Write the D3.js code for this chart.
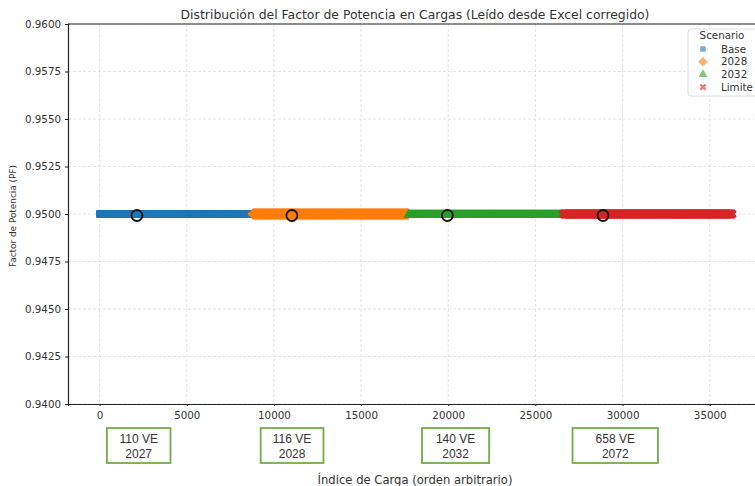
<!DOCTYPE html>
<html>
<head>
<meta charset="utf-8">
<script src="https://cdn.jsdelivr.net/npm/d3@7"></script>
<style>
  body { margin: 0; background: #fff; }
  svg text { font-family: "DejaVu Sans", sans-serif; fill: #333; }
</style>
</head>
<body>
<div id="container"></div>
<script>
// series segments: index range and power factor
const scenarios = ['Base', '2028', '2032', 'Limite'];
const segStart = [0, 8800, 17700, 26600];
const segEnd = [8800, 17700, 26600, 36300];
const pfValue = [0.95, 0.95, 0.95, 0.95];

// highlighted points (black rings)
const ringIndex = [2140, 11030, 19950, 28880];
const ringPF = [0.94992, 0.94992, 0.94992, 0.94992];

// annotation boxes under the axis
const boxCenter = [2240, 11040, 20420, 29580];
const boxWidth = [3650, 3600, 3850, 4900];
const boxLine1 = ['110 VE', '116 VE', '140 VE', '658 VE'];
const boxLine2 = ['2027', '2028', '2032', '2072'];

const xTicks = [0, 5000, 10000, 15000, 20000, 25000, 30000, 35000];
const yTicks = [0.94, 0.9425, 0.945, 0.9475, 0.95, 0.9525, 0.955, 0.9575, 0.96];

const colors = ['#1f77b4', '#ff7f0e', '#2ca02c', '#d62728'];
const symbols = [d3.symbolSquare, d3.symbolSquare, d3.symbolTriangle, d3.symbolCross];
const rotate = [0, 45, 0, 45];

const width = 755, height = 486;
const margin = { left: 68, right: -9, top: 24, bottom: 82 };

const svg = d3.select('#container').append('svg')
  .attr('width', width)
  .attr('height', height);

const x = d3.scaleLinear()
  .domain([-1815, 38115])
  .range([margin.left, width - margin.right]);
const y = d3.scaleLinear()
  .domain([0.94, 0.96])
  .range([height - margin.bottom, margin.top]);

// grid
svg.append('g')
  .selectAll('line')
  .data(xTicks)
  .enter().append('line')
  .attr('x1', d => x(d)).attr('x2', d => x(d))
  .attr('y1', y(0.96)).attr('y2', y(0.94))
  .attr('stroke', '#ddd').attr('stroke-width', 0.8)
  .attr('stroke-dasharray', '3,2');
svg.append('g')
  .selectAll('line')
  .data(yTicks)
  .enter().append('line')
  .attr('x1', x.range()[0]).attr('x2', x.range()[1])
  .attr('y1', d => y(d)).attr('y2', d => y(d))
  .attr('stroke', '#ddd').attr('stroke-width', 0.8)
  .attr('stroke-dasharray', '3,2');

// scatter bands
const step = 15;
const sizes = [50, 62, 40, 50];
const nudge = [0, 0, 1, 0];
scenarios.forEach((s, i) => {
  const pts = d3.range(segStart[i], segEnd[i], step);
  svg.append('g')
    .selectAll('path')
    .data(pts)
    .enter().append('path')
    .attr('transform', d => `translate(${x(d)},${y(pfValue[i]) + nudge[i]}) rotate(${rotate[i]})`)
    .attr('d', d3.symbol().type(symbols[i]).size(sizes[i]))
    .attr('fill', colors[i]);
});

// rings
svg.append('g')
  .selectAll('circle')
  .data(ringIndex)
  .enter().append('circle')
  .attr('cx', d => x(d))
  .attr('cy', (d, i) => y(ringPF[i]))
  .attr('r', 5.5)
  .attr('fill', 'none')
  .attr('stroke', '#111')
  .attr('stroke-width', 1.8);

// axes
const xAxis = svg.append('g')
  .attr('transform', `translate(0,${y(0.94)})`)
  .call(d3.axisBottom(x).tickValues(xTicks).tickSize(2).tickPadding(6).tickFormat(d3.format('d')));
const yAxis = svg.append('g')
  .attr('transform', `translate(${margin.left},0)`)
  .call(d3.axisLeft(y).tickValues(yTicks).tickSize(3).tickPadding(4).tickFormat(d3.format('.4f')));
[xAxis, yAxis].forEach(a => {
  a.select('.domain').attr('stroke', '#222').attr('stroke-width', 1.2);
  a.selectAll('.tick line').attr('stroke', '#222');
  a.selectAll('text').attr('font-size', 10.3).attr('font-family', '"DejaVu Sans", sans-serif').attr('fill', '#333');
});
// top spine
svg.append('line')
  .attr('x1', x.range()[0]).attr('x2', x.range()[1])
  .attr('y1', y(0.96)).attr('y2', y(0.96))
  .attr('stroke', '#222').attr('stroke-width', 1.2);

// title and labels
svg.append('text')
  .attr('x', 415).attr('y', 19)
  .attr('text-anchor', 'middle')
  .attr('font-size', 12.4)
  .text('Distribución del Factor de Potencia en Cargas (Leído desde Excel corregido)');
svg.append('text')
  .attr('x', 415).attr('y', 484)
  .attr('text-anchor', 'middle')
  .attr('font-size', 11.6)
  .text('Índice de Carga (orden arbitrario)');
svg.append('text')
  .attr('transform', 'translate(16,216) rotate(-90)')
  .attr('text-anchor', 'middle')
  .attr('font-size', 9)
  .attr('textLength', 102)
  .text('Factor de Potencia (PF)');

// boxes
const boxes = svg.append('g')
  .selectAll('g')
  .data(boxCenter)
  .enter().append('g');
boxes.append('rect')
  .attr('x', (d, i) => x(d - boxWidth[i] / 2))
  .attr('y', 428)
  .attr('width', (d, i) => x(boxWidth[i]) - x(0))
  .attr('height', 35)
  .attr('fill', '#fff')
  .attr('stroke', '#70ad47')
  .attr('stroke-width', 1.8);
boxes.append('text')
  .attr('x', d => x(d)).attr('y', 443)
  .attr('text-anchor', 'middle')
  .attr('font-size', 12)
  .style('font-family', '"Liberation Sans", Arial, sans-serif')
  .text((d, i) => boxLine1[i]);
boxes.append('text')
  .attr('x', d => x(d)).attr('y', 458)
  .attr('text-anchor', 'middle')
  .attr('font-size', 12)
  .style('font-family', '"Liberation Sans", Arial, sans-serif')
  .text((d, i) => boxLine2[i]);

// legend
const legend = svg.append('g');
legend.append('rect')
  .attr('x', 688).attr('y', 29)
  .attr('width', 80).attr('height', 67)
  .attr('rx', 3)
  .attr('fill', 'rgba(255,255,255,0.85)')
  .attr('stroke', '#ddd');
legend.append('text')
  .attr('x', 722).attr('y', 39)
  .attr('text-anchor', 'middle')
  .attr('font-size', 10.3)
  .text('Scenario');
scenarios.forEach((s, i) => {
  const ly = 49 + i * 12.7;
  legend.append('path')
    .attr('transform', `translate(703,${ly}) rotate(${rotate[i]})`)
    .attr('d', d3.symbol().type(symbols[i]).size([30, 45, 35, 30][i]))
    .attr('fill', colors[i])
    .attr('opacity', 0.6);
  legend.append('text')
    .attr('x', 721).attr('y', ly + 3.5)
    .attr('font-size', 10.3)
    .text(s);
});
</script>
</body>
</html>
